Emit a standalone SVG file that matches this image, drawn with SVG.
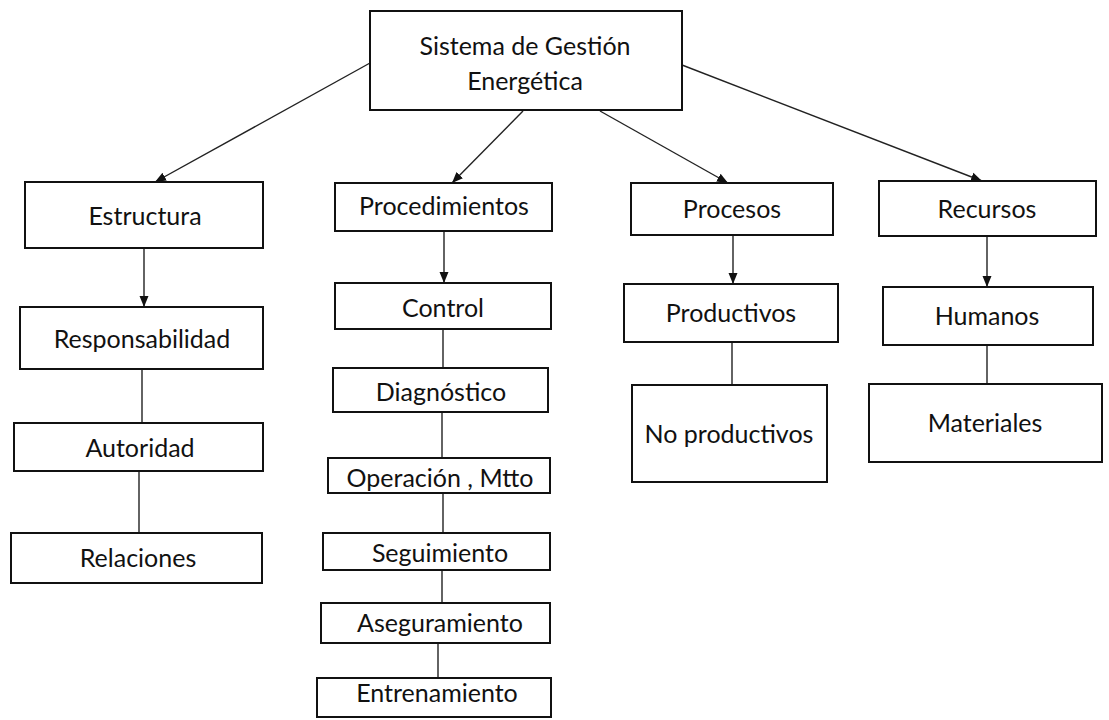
<svg xmlns="http://www.w3.org/2000/svg" width="1109" height="720" viewBox="0 0 1109 720">
  <defs>
    <style>
      .box { fill: #ffffff; stroke: #111111; stroke-width: 2; }
      .lbl { font-family: Lato, "Open Sans", "Liberation Sans", sans-serif; font-size: 25px; fill: #111111; text-anchor: middle; }
      .link { fill: none; stroke: #222222; stroke-width: 1.4; }
    </style>
    <marker id="arrow" markerUnits="userSpaceOnUse" markerWidth="12" markerHeight="12" viewBox="0 0 12 12" refX="11" refY="6" orient="auto">
      <path d="M0,1.5 L11,6 L0,10.5 Z" fill="#111111"/>
    </marker>
  </defs>
  <rect width="1109" height="720" fill="#ffffff"/>

  <!-- connectors -->
  <g id="connectors">
    <line class="link" x1="370" y1="63" x2="155" y2="182" marker-end="url(#arrow)"/>
    <line class="link" x1="523" y1="111" x2="452" y2="183" marker-end="url(#arrow)"/>
    <line class="link" x1="600" y1="111" x2="728" y2="183" marker-end="url(#arrow)"/>
    <line class="link" x1="682" y1="65" x2="982" y2="181" marker-end="url(#arrow)"/>

    <line class="link" x1="144" y1="248" x2="144" y2="307" marker-end="url(#arrow)"/>
    <line class="link" x1="142" y1="369" x2="142" y2="423"/>
    <line class="link" x1="139" y1="471" x2="139" y2="533"/>

    <line class="link" x1="444" y1="231" x2="444" y2="283" marker-end="url(#arrow)"/>
    <line class="link" x1="443" y1="329" x2="443" y2="368"/>
    <line class="link" x1="442" y1="412" x2="442" y2="458"/>
    <line class="link" x1="443" y1="493" x2="443" y2="533"/>
    <line class="link" x1="442" y1="570" x2="442" y2="603"/>
    <line class="link" x1="438" y1="643" x2="438" y2="678"/>

    <line class="link" x1="733" y1="235" x2="733" y2="284" marker-end="url(#arrow)"/>
    <line class="link" x1="732" y1="342" x2="732" y2="385"/>

    <line class="link" x1="987" y1="236" x2="987" y2="287" marker-end="url(#arrow)"/>
    <line class="link" x1="987" y1="345" x2="987" y2="384"/>
  </g>

  <!-- root -->
  <g id="sistema">
    <rect class="box" x="370" y="11" width="312" height="99"/>
    <text class="lbl" x="525" y="55">Sistema de Gestión</text>
    <text class="lbl" x="525" y="90">Energética</text>
  </g>

  <!-- Estructura branch -->
  <g id="estructura">
    <rect class="box" x="25" y="182" width="238" height="66"/>
    <text class="lbl" x="145" y="225">Estructura</text>
  </g>
  <g id="responsabilidad">
    <rect class="box" x="20" y="307" width="243" height="62"/>
    <text class="lbl" x="142" y="348">Responsabilidad</text>
  </g>
  <g id="autoridad">
    <rect class="box" x="14" y="423" width="249" height="48"/>
    <text class="lbl" x="140" y="457">Autoridad</text>
  </g>
  <g id="relaciones">
    <rect class="box" x="11" y="533" width="251" height="50"/>
    <text class="lbl" x="138" y="567">Relaciones</text>
  </g>

  <!-- Procedimientos branch -->
  <g id="procedimientos">
    <rect class="box" x="335" y="183" width="217" height="48"/>
    <text class="lbl" x="444" y="215">Procedimientos</text>
  </g>
  <g id="control">
    <rect class="box" x="335" y="283" width="216" height="46"/>
    <text class="lbl" x="443" y="317">Control</text>
  </g>
  <g id="diagnostico">
    <rect class="box" x="333" y="368" width="215" height="44"/>
    <text class="lbl" x="441" y="401">Diagnóstico</text>
  </g>
  <g id="operacion">
    <rect class="box" x="328" y="458" width="222" height="35"/>
    <text class="lbl" x="440" y="487">Operación , Mtto</text>
  </g>
  <g id="seguimiento">
    <rect class="box" x="323" y="533" width="227" height="37"/>
    <text class="lbl" x="440" y="562">Seguimiento</text>
  </g>
  <g id="aseguramiento">
    <rect class="box" x="321" y="603" width="229" height="40"/>
    <text class="lbl" x="440" y="632">Aseguramiento</text>
  </g>
  <g id="entrenamiento">
    <rect class="box" x="317" y="678" width="234" height="39"/>
    <text class="lbl" x="437" y="702">Entrenamiento</text>
  </g>

  <!-- Procesos branch -->
  <g id="procesos">
    <rect class="box" x="631" y="183" width="202" height="52"/>
    <text class="lbl" x="732" y="218">Procesos</text>
  </g>
  <g id="productivos">
    <rect class="box" x="624" y="284" width="214" height="58"/>
    <text class="lbl" x="731" y="322">Productivos</text>
  </g>
  <g id="no-productivos">
    <rect class="box" x="632" y="385" width="195" height="97"/>
    <text class="lbl" x="729" y="443">No productivos</text>
  </g>

  <!-- Recursos branch -->
  <g id="recursos">
    <rect class="box" x="879" y="181" width="217" height="55"/>
    <text class="lbl" x="987" y="218">Recursos</text>
  </g>
  <g id="humanos">
    <rect class="box" x="883" y="287" width="210" height="58"/>
    <text class="lbl" x="987" y="325">Humanos</text>
  </g>
  <g id="materiales">
    <rect class="box" x="869" y="384" width="233" height="78"/>
    <text class="lbl" x="985" y="432">Materiales</text>
  </g>
</svg>
